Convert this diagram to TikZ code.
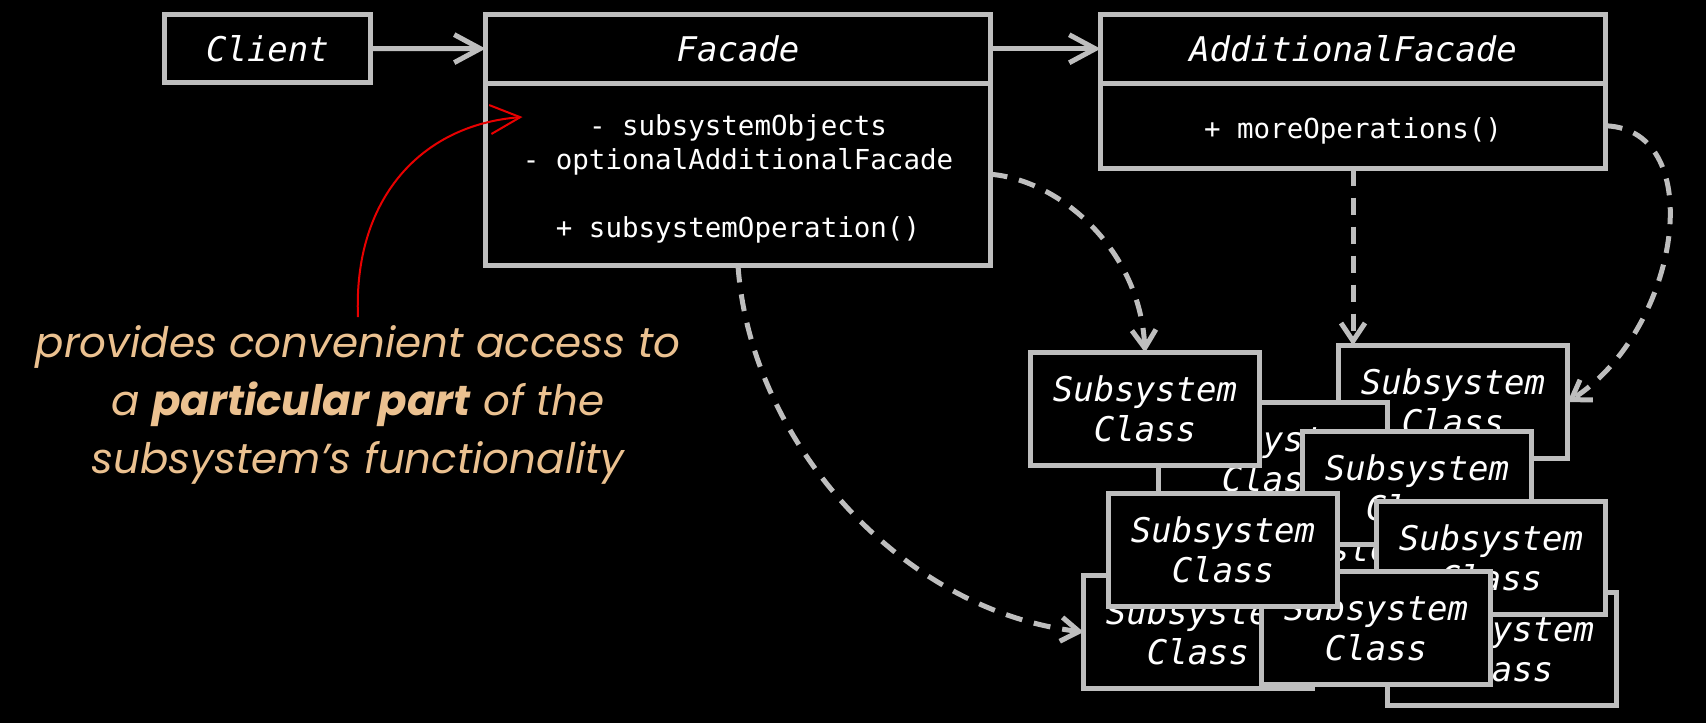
\documentclass[tikz,border=0pt]{standalone}
\usepackage{fontspec}
\setmonofont{DejaVu Sans Mono}
\newfontfamily\notefont{Poppins}
\usepackage{xcolor}
\usetikzlibrary{positioning,calc,arrows.meta}

\definecolor{umlgray}{HTML}{BEBEBE}
\definecolor{notetan}{HTML}{EBC190}
\definecolor{notered}{HTML}{E80000}

\tikzset{
  umlbox/.style={draw=umlgray, line width=2.5pt, fill=black, text=white, outer sep=0pt, inner sep=0pt},
  cls/.style={umlbox, font=\ttfamily\itshape\fontsize{17}{20}\selectfont},
  member/.style={umlbox, align=center, font=\ttfamily\fontsize{13.75}{17}\selectfont},
  subclass/.style={cls, align=center, minimum width=114.5pt, minimum height=56.5pt},
  assoc/.style={draw=umlgray, line width=2.5pt, -{Straight Barb[length=13pt,width=14pt,line width=2.5pt]}},
  depend/.style={draw=umlgray, line width=2.5pt, dash pattern=on 8.5pt off 6pt, -{Straight Barb[length=9pt,width=12pt,line width=2.5pt]}},
  note/.style={align=center, text=notetan, inner sep=4pt, font=\notefont\itshape\fontsize{21}{29}\selectfont},
  pointer/.style={draw=notered, line width=1pt, -{Straight Barb[length=15pt,width=14.5pt,line width=1pt]}}
}

\begin{document}
\begin{tikzpicture}[x=0.5pt,y=-0.5pt]
    \fill[black] (0,0) rectangle (1706,723); % Background
    \useasboundingbox (0,0) rectangle (1706,723);

    \node[cls, minimum width=103pt, minimum height=34pt] (client) at (267.5,48.5) {Client}; % Client

    \node[cls, minimum width=252.5pt, minimum height=34.25pt] (facade) at (738,48.75) {Facade}; % Facade
    \node[member, below=0pt of facade, minimum width=252.5pt, minimum height=91.25pt] (facadebody)
        {\rule{0pt}{15.5pt}- subsystemObjects\\- optionalAdditionalFacade\\[17pt]+ subsystemOperation()};

    \node[cls, minimum width=252.5pt, minimum height=34.25pt] (additional) at (1353,48.75) {AdditionalFacade}; % Additional facade
    \node[member, below=0pt of additional, minimum width=252.5pt, minimum height=42.75pt] (addbody)
        {\rule{0pt}{15.5pt}+ moreOperations()};

    % Subsystem classes, back to front
    \node[subclass] (boxc) at (1453,402) {Subsystem\\Class};
    \node[subclass] (boxb) at (1273,459) {Subsystem\\Class};
    \node[subclass] (boxt) at (1319,569) {Subsystem\\Class};
    \node[subclass] (boxd) at (1417,488) {Subsystem\\Class};
    \node[subclass] (boxa) at (1145,409) {Subsystem\\Class};
    \node[subclass] (boxg) at (1198,632) {Subsystem\\Class};
    \node[subclass] (boxi) at (1502,649) {Subsystem\\Class};
    \node[subclass] (boxf) at (1491,558) {Subsystem\\Class};
    \node[subclass] (boxh) at (1376,628) {Subsystem\\Class};
    \node[subclass] (boxe) at (1223,550) {Subsystem\\Class};

    \draw[assoc] (client) -- (facade);
    \draw[assoc] (facade) -- (additional);

    \draw[depend] (facadebody.east) .. controls (1060,180) and (1140,250) .. (boxa.north);
    \draw[depend] (facadebody.south) .. controls (750,440) and (900,610) .. (boxg.west);
    \draw[depend] (addbody.south) -- (addbody.south |- boxc.north);
    \draw[depend] (addbody.east) .. controls (1710,130) and (1680,330) .. (boxc.east);

    \node[note] (note) at (358,405) {provides convenient access to\\a \textbf{particular part} of the\\subsystem’s functionality}; % Note
    \coordinate (membertip) at ($(facadebody.north west)+(37,34)$);
    \draw[pointer] (note.north) .. controls (353,200) and (420,125) .. (membertip);
\end{tikzpicture}
\end{document}
